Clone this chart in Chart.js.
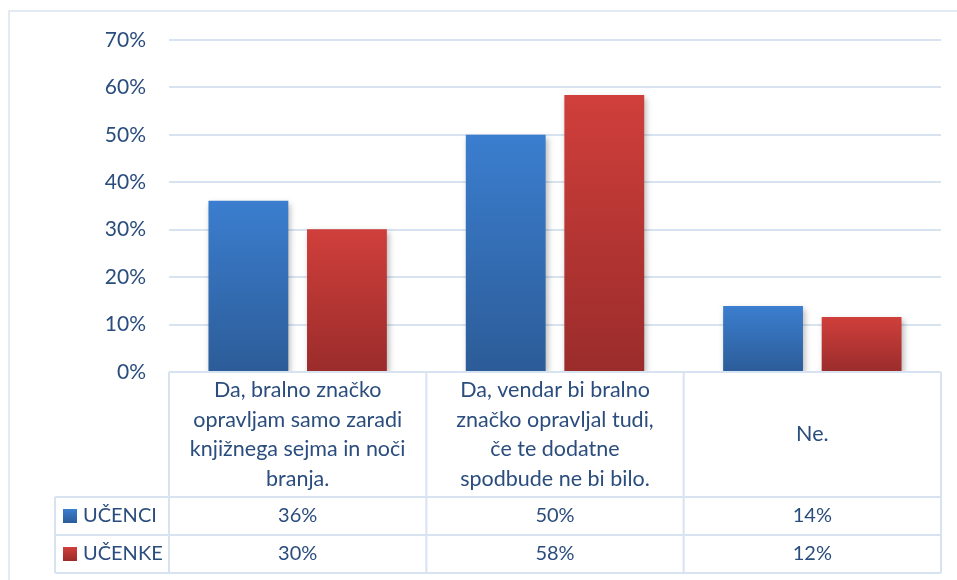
<!DOCTYPE html>
<html>
<head>
<meta charset="utf-8">
<script src="https://cdn.jsdelivr.net/npm/chart.js@4/dist/chart.umd.min.js"></script>
<style>
    body { margin: 0; background: #fff; }
    #wrap { width: 957px; height: 580px; }
</style>
</head>
<body>
<div id="wrap"><canvas id="chart" width="957" height="580"></canvas></div>
<script>
// Categories (wrapped as in the table header)
const categories = [
    ['Da, bralno značko', 'opravljam samo zaradi', 'knjižnega sejma in noči', 'branja.'],
    ['Da, vendar bi bralno', 'značko opravljal tudi,', 'če te dodatne', 'spodbude ne bi bilo.'],
    ['Ne.']
];
const seriesNames = ['UČENCI', 'UČENKE'];
const ucenci = [36.1, 50, 13.9];
const ucenke = [30.1, 58.4, 11.6];
const yTicks = [0, 10, 20, 30, 40, 50, 60, 70];

const textColor = '#2a4d7d';
const lineColor = '#d8e3f1';
const fontFamily = 'Lato, "Open Sans", sans-serif';

// Per-bar vertical gradient
function barGradient(top, bottom) {
    return function(context) {
        const chart = context.chart;
        if (!chart.chartArea || context.parsed === undefined) return top;
        const y = chart.scales.y;
        const y0 = y.getPixelForValue(0);
        const y1 = y.getPixelForValue(context.parsed.y);
        const g = chart.ctx.createLinearGradient(0, y1, 0, y0);
        g.addColorStop(0, top);
        g.addColorStop(1, bottom);
        return g;
    };
}

const blueFill = barGradient('#3b7ecf', '#2c5c98');
const redFill = barGradient('#d03f3b', '#9a2c2b');

// Soft shadow behind the bars
const barShadow = {
    id: 'barShadow',
    beforeDatasetsDraw(chart) {
        const ctx = chart.ctx;
        ctx.save();
        ctx.shadowColor = 'rgba(0, 0, 0, 0.28)';
        ctx.shadowBlur = 6;
        ctx.shadowOffsetX = 2;
        ctx.shadowOffsetY = 3;
    },
    afterDatasetsDraw(chart) {
        chart.ctx.restore();
    }
};

// Outer frame (top and left edges are visible)
const frame = {
    id: 'frame',
    beforeDraw(chart) {
        const ctx = chart.ctx;
        ctx.save();
        ctx.strokeStyle = '#dbe4f1';
        ctx.lineWidth = 1.5;
        ctx.beginPath();
        ctx.moveTo(957, 11);
        ctx.lineTo(9, 11);
        ctx.lineTo(9, 580);
        ctx.stroke();
        ctx.restore();
    }
};

// Data table under the plot
const dataTable = {
    id: 'dataTable',
    afterDraw(chart) {
        const ctx = chart.ctx;
        const x = chart.scales.x;
        const area = chart.chartArea;
        const catW = (area.right - area.left) / categories.length;
        const top = area.bottom;
        const headBottom = top + 125;
        const rowH = 38;
        const bottom = headBottom + rowH * 2;
        const legendLeft = 55;

        ctx.save();
        ctx.strokeStyle = lineColor;
        ctx.lineWidth = 2;
        ctx.beginPath();
        // horizontal lines
        ctx.moveTo(area.left, top); ctx.lineTo(area.right, top);
        for (let r = 0; r <= 2; r++) {
            const yy = headBottom + r * rowH;
            ctx.moveTo(legendLeft, yy); ctx.lineTo(area.right, yy);
        }
        // vertical lines at category boundaries
        for (let i = 0; i <= categories.length; i++) {
            const bx = x.getPixelForValue(0) - catW / 2 + i * catW;
            ctx.moveTo(bx, top); ctx.lineTo(bx, bottom);
        }
        ctx.moveTo(legendLeft, headBottom); ctx.lineTo(legendLeft, bottom);
        ctx.stroke();

        ctx.fillStyle = textColor;
        ctx.font = '21.5px ' + fontFamily;
        ctx.textAlign = 'center';
        ctx.textBaseline = 'middle';

        // header labels
        const lineH = 29.5;
        const headMid = (top + headBottom) / 2;
        categories.forEach((lines, i) => {
            const cx = x.getPixelForValue(i);
            const start = headMid - (lines.length - 1) * lineH / 2;
            lines.forEach((ln, j) => ctx.fillText(ln, cx, start + j * lineH));
        });

        // rows
        ctx.font = '20px ' + fontFamily;
        const rows = [ucenci, ucenke];
        const grads = [['#3b7ecf', '#2c5c98'], ['#d03f3b', '#9a2c2b']];
        rows.forEach((vals, r) => {
            const cy = headBottom + r * rowH + rowH / 2;
            ctx.textAlign = 'center';
            ctx.fillStyle = textColor;
            vals.forEach((v, i) => {
                ctx.fillText(Math.round(v) + '%', x.getPixelForValue(i), cy);
            });
            // legend key
            const g = ctx.createLinearGradient(0, cy - 7, 0, cy + 7);
            g.addColorStop(0, grads[r][0]);
            g.addColorStop(1, grads[r][1]);
            ctx.fillStyle = g;
            ctx.fillRect(63, cy - 7, 14, 14);
            ctx.fillStyle = textColor;
            ctx.textAlign = 'left';
            ctx.fillText(seriesNames[r], 83, cy);
        });
        ctx.restore();
    }
};

new Chart(document.getElementById('chart'), {
    type: 'bar',
    data: {
        labels: categories,
        datasets: [
            {
                label: seriesNames[0],
                data: ucenci,
                backgroundColor: blueFill,
                categoryPercentage: 0.766,
                barPercentage: 0.81
            },
            {
                label: seriesNames[1],
                data: ucenke,
                backgroundColor: redFill,
                categoryPercentage: 0.766,
                barPercentage: 0.81
            }
        ]
    },
    options: {
        responsive: false,
        animation: false,
        layout: {
            padding: { top: 40, right: 16, bottom: 208, left: 0 }
        },
        scales: {
            x: {
                display: false
            },
            y: {
                min: 0,
                max: 70,
                afterFit(scale) { scale.width = 169; },
                afterBuildTicks(scale) {
                    scale.ticks = yTicks.map(v => ({ value: v }));
                },
                border: { display: false },
                grid: {
                    color: lineColor,
                    lineWidth: 2,
                    drawTicks: false
                },
                ticks: {
                    padding: 23,
                    color: textColor,
                    font: { family: fontFamily, size: 21 },
                    callback: v => v + '%'
                }
            }
        },
        plugins: {
            legend: { display: false },
            tooltip: { enabled: false }
        }
    },
    plugins: [frame, barShadow, dataTable]
});
</script>
</body>
</html>
